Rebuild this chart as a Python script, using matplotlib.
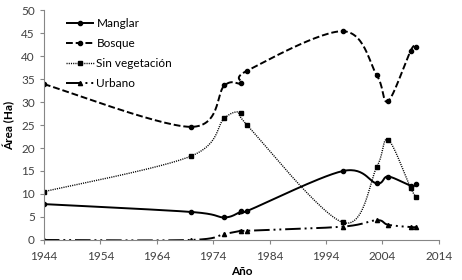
import numpy as np
import matplotlib
matplotlib.use("Agg")
from matplotlib import pyplot as plt

years = [1944, 1970, 1976, 1979, 1980, 1997, 2003, 2005, 2009, 2010]
manglar = [7.8, 6.1, 4.9, 6.2, 6.3, 15.0, 12.3, 13.8, 11.8, 12.2]
bosque = [33.9, 24.6, 33.6, 34.1, 36.8, 45.4, 35.8, 30.2, 41.2, 42.0]
sin_veg = [10.5, 18.2, 26.5, 27.7, 25.0, 3.8, 15.9, 21.8, 11.3, 9.3]
urbano = [0.0, 0.0, 1.3, 2.0, 2.0, 2.9, 4.3, 3.3, 2.8, 2.8]

plt.rcParams['font.family'] = ['Lato', 'DejaVu Sans']


def smooth(x, y, n=30):
    # Excel-style smoothed line: cubic bezier through each pair of points
    p = np.column_stack([x, y]).astype(float)
    out = [p[0]]
    for i in range(len(p) - 1):
        p0 = p[i - 1] if i > 0 else p[i]
        p3 = p[i + 2] if i + 2 < len(p) else p[i + 1]
        c1 = p[i] + (p[i + 1] - p0) / 6
        c2 = p[i + 1] - (p3 - p[i]) / 6
        t = np.linspace(0, 1, n)[1:, None]
        seg = ((1 - t) ** 3) * p[i] + 3 * ((1 - t) ** 2) * t * c1 \
            + 3 * (1 - t) * t ** 2 * c2 + t ** 3 * p[i + 1]
        out.extend(seg)
    out = np.array(out)
    return out[:, 0], out[:, 1]


fig = plt.figure(figsize=(4.62, 2.8), dpi=100)
ax = fig.add_axes([0.095, 0.143, 0.855, 0.821])

series = [
    ("Manglar", manglar, "o", (0, ())),
    ("Bosque", bosque, "o", (0, (3.5, 1.5))),
    ("Sin vegetación", sin_veg, "s", (0, (0.8, 0.8))),
    ("Urbano", urbano, "^", (0, (8, 2, 1, 2, 1, 2))),
]
lw = {"Manglar": 1.4, "Bosque": 1.4, "Sin vegetación": 1.0, "Urbano": 1.4}
for name, vals, mk, ls in series:
    sx, sy = smooth(years, vals)
    ax.plot(sx, sy, color="black", lw=lw[name], linestyle=ls)
    ax.plot(years, vals, linestyle="none", marker=mk, ms=3, color="black")
    ax.plot([], [], color="black", lw=lw[name], linestyle=ls, marker=mk,
            ms=3, label=name)

ax.set_xlim(1944, 2014)
ax.set_ylim(0, 50)
ax.set_xticks(range(1944, 2015, 10))
ax.set_yticks(range(0, 51, 5))
for s in ["top", "right"]:
    ax.spines[s].set_visible(False)
for s in ["left", "bottom"]:
    ax.spines[s].set_color("#868686")
    ax.spines[s].set_linewidth(0.8)
ax.tick_params(colors="#868686", labelcolor="#404040", labelsize=8.5,
               length=3, width=0.8)
ax.tick_params(axis="x", pad=5)
ax.set_xlabel("Año", fontsize=8.5, fontweight="bold", labelpad=3)
ax.set_ylabel("Área (Ha)", fontsize=8.5, fontweight="bold", labelpad=4)

handles, labels = ax.get_legend_handles_labels()
ax.legend(handles, labels, loc="upper left", bbox_to_anchor=(0.03, 1.01),
          frameon=False, fontsize=8.5, labelspacing=0.75, handlelength=2.3,
          handletextpad=0.25)

fig.savefig("out.png", dpi=100)
